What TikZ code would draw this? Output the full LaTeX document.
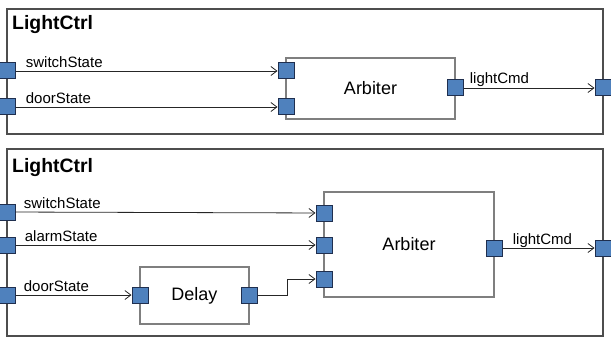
\documentclass[tikz,border=0pt]{standalone}
\usepackage{fontspec}
\setmainfont{Liberation Sans}
\usetikzlibrary{arrows.meta}
\definecolor{portblue}{HTML}{4F81BD}
\definecolor{portedge}{HTML}{1F2F4F}
\definecolor{boxgray}{HTML}{7F7F7F}
\definecolor{framegray}{HTML}{4D4D4D}
\tikzstyle{frame} = [draw=framegray, line width=1.3pt]
\tikzstyle{title} = [anchor=base west, inner sep=0pt, font=\fontsize{19.4}{22}\selectfont\bfseries]
\tikzstyle{block} = [rectangle, draw=boxgray, line width=1.3pt, inner sep=0pt, text centered, font=\fontsize{18}{20}\selectfont]
\tikzstyle{port} = [rectangle, minimum size=16pt, inner sep=0pt, fill=portblue, draw=portedge, line width=1pt]
\tikzstyle{arrow} = [-{Straight Barb[length=6pt, width=9pt, line width=0.8pt]}, line width=0.8pt, draw=black!85]
\tikzstyle{lbl} = [anchor=base west, inner sep=0pt, xshift=10pt, yshift=4pt, font=\fontsize{15}{17}\selectfont]

\begin{document}
\begin{tikzpicture}[x=1pt, y=-1pt]
\useasboundingbox (0,0) rectangle (611,337);

% upper LightCtrl
\draw [frame] (7,9) rectangle (603,134);
\node (title1) [title] at (12,30) {LightCtrl};
\node (arb1) [block, minimum width=169pt, minimum height=61pt] at (370.5,88.5) {Arbiter};
\node (sw1) [port] at (7,71) {};
\node (door1) [port] at (7,107) {};
\node (out1) [port] at (603,88) {};
\node (ai1) [port] at (286,71) {};
\node (ai2) [port] at (286,107) {};
\node (ao1) [port] at (455,88) {};
\draw [arrow] (sw1) -- node[lbl, pos=0] {switchState} (ai1);
\draw [arrow] (door1) -- node[lbl, pos=0] {doorState} (ai2);
\draw [arrow] (ao1) -- node[lbl, pos=0, xshift=-4pt] {lightCmd} (out1);

% lower LightCtrl, with Delay
\draw [frame] (7,149) rectangle (603,336);
\node (title2) [title] at (12,172) {LightCtrl};
\node (arb2) [block, minimum width=170pt, minimum height=105pt] at (409,244.5) {Arbiter};
\node (delay) [block, minimum width=109pt, minimum height=57pt] at (194.5,295.5) {Delay};
\node (sw2) [port] at (7,212) {};
\node (alarm2) [port] at (7,245) {};
\node (door2) [port] at (7,295) {};
\node (out2) [port] at (603,248) {};
\node (bi1) [port] at (324,213) {};
\node (bi2) [port] at (324,245) {};
\node (bi3) [port] at (324,279) {};
\node (bo1) [port] at (494,248) {};
\node (di) [port] at (140,295) {};
\node (do) [port] at (249,295) {};
\coordinate (bend) at (287,295);
\draw [arrow] (sw2) -- node[lbl, pos=0, xshift=-2pt] {switchState} (bi1);
\draw [arrow] (alarm2) -- node[lbl, pos=0, xshift=-1pt] {alarmState} (bi2);
\draw [arrow] (door2) -- node[lbl, pos=0, xshift=-2pt] {doorState} (di);
\draw [arrow] (do) -- (bend) |- (bi3);
\draw [arrow] (bo1) -- node[lbl, pos=0] {lightCmd} (out2);

\end{tikzpicture}
\end{document}
